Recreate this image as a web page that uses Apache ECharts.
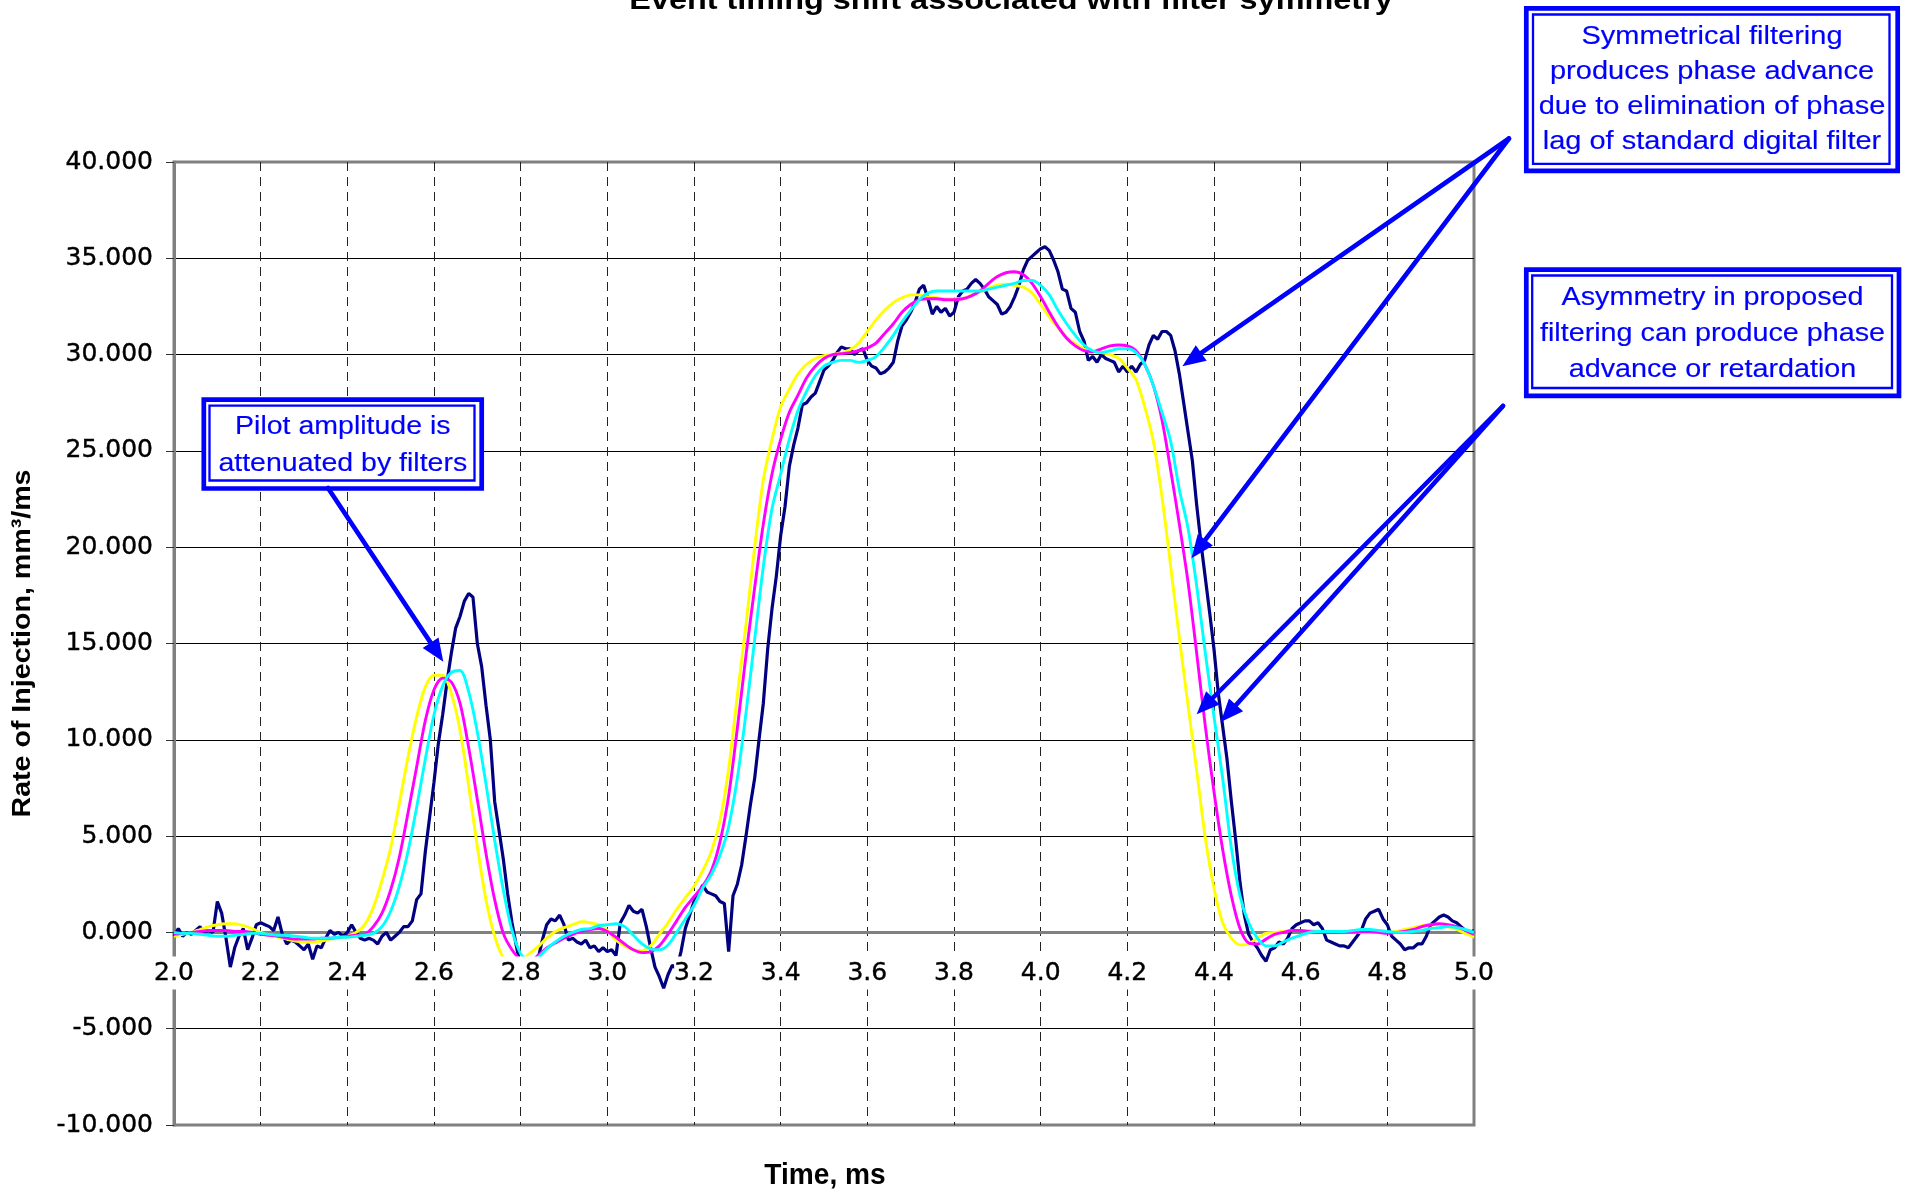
<!DOCTYPE html>
<html><head><meta charset="utf-8">
<script src="https://cdn.jsdelivr.net/npm/echarts@6/dist/echarts.min.js"></script>
<style>html,body{margin:0;padding:0;background:#fff}#c{width:1905px;height:1192px}</style>
</head><body><div id="c"></div>
<script>
// ---------------- data ----------------
const timeStart = 2.0;      // ms, first sample
const rawStep = 0.01;       // ms between raw samples
const filtStep = 0.02;      // ms between filtered samples

// measured (unfiltered) rate of injection, 2.00 .. 5.00 ms
const rawMeasured = [
 -0.2, 0.2, -0.2, 0.0, -0.1, 0.1, 0.3, 0.0, 0.1, 0.0,
 1.6, 1.0, -0.3, -1.8, -0.8, -0.2, 0.2, -0.9, -0.3, 0.4,
 0.5, 0.4, 0.3, 0.1, 0.8, -0.1, -0.6, -0.4, -0.5, -0.7,
 -0.9, -0.6, -1.4, -0.7, -0.8, -0.3, 0.1, -0.1, 0.0, -0.2,
 0.0, 0.4, 0.0, -0.3, -0.4, -0.3, -0.4, -0.6, -0.2, 0.0,
 -0.4, -0.2, 0.0, 0.3, 0.3, 0.6, 1.7, 2.0, 4.2, 6.0,
 7.8, 9.8, 11.3, 13.0, 14.5, 15.8, 16.4, 17.2, 17.6, 17.4,
 15.0, 13.8, 11.8, 10.0, 6.8, 5.3, 3.8, 2.0, 0.5, -0.7,
 -1.8, -2.4, -2.6, -2.3, -1.4, -0.4, 0.4, 0.7, 0.6, 0.9,
 0.4, -0.4, -0.3, -0.5, -0.6, -0.4, -0.8, -0.7, -1.0, -0.8,
 -1.0, -0.9, -1.2, 0.5, 0.9, 1.4, 1.1, 1.0, 1.2, 0.3,
 -0.8, -1.8, -2.3, -2.9, -2.2, -1.7, -1.9, -1.0, 0.2, 0.9,
 1.6, 2.0, 2.45, 2.1, 2.0, 1.9, 1.6, 1.5, -1.0, 1.9,
 2.5, 3.5, 5.0, 6.6, 8.0, 10.0, 11.9, 14.7, 16.8, 18.5,
 20.6, 22.1, 24.2, 25.3, 26.2, 27.4, 27.5, 27.8, 28.0, 28.6,
 29.2, 29.4, 29.7, 30.1, 30.4, 30.3, 30.3, 30.0, 30.2, 30.3,
 29.7, 29.4, 29.3, 29.0, 29.1, 29.3, 29.6, 30.7, 31.5, 31.8,
 32.2, 32.7, 33.4, 33.6, 32.9, 32.1, 32.5, 32.2, 32.4, 32.0,
 32.2, 33.0, 33.3, 33.4, 33.7, 33.9, 33.7, 33.4, 33.0, 32.8,
 32.6, 32.1, 32.2, 32.5, 33.0, 33.6, 34.4, 34.9, 35.1, 35.3,
 35.5, 35.6, 35.4, 34.9, 34.3, 33.4, 33.3, 32.4, 32.2, 31.2,
 30.7, 29.7, 29.9, 29.6, 30.0, 29.8, 29.7, 29.6, 29.1, 29.4,
 29.1, 29.4, 29.1, 29.5, 29.7, 30.5, 31.0, 30.8, 31.2, 31.2,
 31.0, 30.2, 29.0, 27.5, 26.0, 24.5, 22.2, 20.2, 18.4, 16.6,
 14.7, 12.4, 10.7, 9.0, 6.8, 4.8, 2.6, 0.9, -0.1, -0.5,
 -0.8, -1.2, -1.5, -0.9, -0.8, -0.5, -0.6, -0.3, 0.2, 0.4,
 0.5, 0.6, 0.6, 0.4, 0.5, 0.2, -0.4, -0.5, -0.6, -0.7,
 -0.7, -0.8, -0.5, -0.2, 0.1, 0.7, 1.0, 1.1, 1.2, 0.7,
 0.4, -0.2, -0.4, -0.6, -0.9, -0.8, -0.8, -0.6, -0.6, -0.2,
 0.4, 0.6, 0.8, 0.9, 0.8, 0.6, 0.5, 0.3, 0.1, 0.0,
 0.1
];

// filtered traces, 2.00 .. 5.00 ms every 0.02 ms
const filterYellow = [
 -0.2, -0.1, 0.0, 0.15, 0.3, 0.4, 0.45, 0.45, 0.35, 0.2,
 0.0, -0.15, -0.25, -0.35, -0.45, -0.5, -0.5, -0.45, -0.35, -0.3,
 -0.2, 0.0, 0.4, 1.3, 2.7, 4.4, 6.7, 9.1, 11.2, 12.75,
 13.35, 13.35, 12.4, 10.5, 7.6, 4.45, 1.7, -0.2, -1.3, -1.6,
 -1.5, -1.1, -0.75, -0.3, 0.05, 0.25, 0.4, 0.55, 0.5, 0.4,
 0.1, -0.4, -0.7, -0.9, -0.95, -0.7, -0.1, 0.5, 1.2, 1.8,
 2.4, 3.2, 4.2, 5.8, 8.5, 12.3, 16.0, 20.0, 23.5, 25.6,
 27.3, 28.2, 29.0, 29.5, 29.8, 29.95, 30.0, 30.1, 30.25, 30.6,
 31.2, 31.8, 32.3, 32.7, 32.95, 33.1, 33.1, 33.0, 32.95, 32.9,
 32.9, 32.9, 33.1, 33.25, 33.45, 33.6, 33.65, 33.6, 33.5, 33.2,
 32.6, 31.95, 31.4, 30.9, 30.55, 30.3, 30.15, 30.1, 30.0, 29.8,
 29.3, 28.7, 27.3, 25.5, 22.6, 19.0, 15.3, 11.8, 8.4, 4.9,
 2.3, 0.5, -0.3, -0.65, -0.6, -0.3, -0.05, 0.0, 0.05, 0.1,
 0.1, 0.1, 0.05, 0.05, 0.05, 0.05, 0.05, 0.0, 0.0, 0.0,
 0.0, 0.05, 0.15, 0.25, 0.35, 0.4, 0.4, 0.3, 0.15, -0.05,
 -0.25
];
const filterMagenta = [
 -0.1, -0.05, 0.0, 0.05, 0.1, 0.1, 0.1, 0.05, 0.05, 0.0,
 -0.1, -0.15, -0.2, -0.3, -0.35, -0.35, -0.35, -0.3, -0.3, -0.25,
 -0.2, -0.15, -0.1, 0.3, 1.0, 2.2, 3.9, 6.2, 8.6, 11.0,
 12.6, 13.2, 13.0, 11.9, 9.6, 6.9, 4.1, 1.7, -0.05, -0.9,
 -1.4, -1.5, -1.2, -0.8, -0.55, -0.3, -0.1, 0.05, 0.15, 0.2,
 0.05, -0.25, -0.6, -0.9, -1.05, -1.0, -0.7, -0.1, 0.6, 1.3,
 1.85, 2.4, 3.2, 4.7, 7.1, 10.6, 14.4, 17.9, 21.2, 23.8,
 25.6, 27.0, 27.9, 28.8, 29.4, 29.8, 30.0, 30.05, 30.1, 30.2,
 30.35, 30.6, 31.1, 31.6, 32.2, 32.6, 32.85, 32.9, 32.9, 32.85,
 32.85, 32.9, 33.05, 33.3, 33.7, 34.05, 34.25, 34.3, 34.15, 33.7,
 33.0, 32.2, 31.45, 30.85, 30.45, 30.2, 30.15, 30.3, 30.45, 30.5,
 30.45, 30.2, 29.5, 28.4, 26.6, 24.0, 21.2, 18.2, 14.5, 10.7,
 7.3, 4.3, 1.9, 0.2, -0.55, -0.6, -0.35, -0.1, 0.0, 0.1,
 0.1, 0.05, 0.0, 0.0, 0.0, 0.05, 0.05, 0.05, 0.05, 0.0,
 -0.05, 0.0, 0.05, 0.15, 0.3, 0.4, 0.45, 0.4, 0.3, 0.1,
 -0.1
];
const filterCyan = [
 0.0, -0.05, -0.05, -0.1, -0.15, -0.2, -0.2, -0.15, -0.1, -0.05,
 -0.05, -0.1, -0.15, -0.15, -0.2, -0.25, -0.3, -0.3, -0.3, -0.25,
 -0.25, -0.2, -0.15, -0.05, 0.3, 1.1, 2.4, 4.2, 6.5, 9.0,
 11.3, 12.8, 13.5, 13.6, 12.5, 10.4, 7.7, 4.8, 2.2, 0.1,
 -1.1, -1.5, -1.3, -0.85, -0.5, -0.2, 0.0, 0.15, 0.2, 0.35,
 0.4, 0.45, 0.3, -0.15, -0.6, -0.85, -0.9, -0.65, 0.0, 0.7,
 1.4, 2.3, 3.0, 4.0, 5.5, 8.0, 11.4, 15.2, 19.0, 22.0,
 23.8, 25.6, 27.1, 28.1, 28.9, 29.4, 29.6, 29.7, 29.7, 29.6,
 29.7, 29.9, 30.4, 31.0, 31.7, 32.3, 32.85, 33.2, 33.3, 33.3,
 33.3, 33.3, 33.3, 33.3, 33.4, 33.5, 33.6, 33.7, 33.85, 33.85,
 33.6, 33.1, 32.3, 31.6, 31.0, 30.5, 30.2, 30.1, 30.2, 30.3,
 30.3, 30.1, 29.5, 28.4, 27.0, 25.5, 23.0, 21.0, 18.0, 14.5,
 11.2, 8.0, 4.4, 1.9, 0.5, -0.3, -0.7, -0.7, -0.5, -0.3,
 -0.15, 0.0, 0.05, 0.05, 0.05, 0.05, 0.1, 0.15, 0.15, 0.1,
 0.05, 0.0, 0.0, 0.05, 0.1, 0.2, 0.25, 0.3, 0.25, 0.15,
 0.0
];

// axis scales
const xMin = 2.0, xMax = 5.0, xStep = 0.2;
const yMin = -10, yMax = 40, yStep = 5;

// texts
const chartTitle = 'Event timing shift associated with filter symmetry';
const xTitle = 'Time, ms';
const yTitle = 'Rate of Injection, mm\u00b3/ms';
const noteSymmetric = ['Symmetrical filtering', 'produces phase advance', 'due to elimination of phase', 'lag of standard digital filter'];
const noteAsymmetric = ['Asymmetry in proposed', 'filtering can produce phase', 'advance or retardation'];
const notePilot = ['Pilot amplitude is', 'attenuated by filters'];

// arrow tips, in data units (time ms, rate)
const tipPilot = [2.6215, 14.05];
const tipsSymmetric = [[4.327, 29.4], [4.348, 19.43]];
const tipsAsymmetric = [[4.360, 11.33], [4.4155, 10.92]];

// ---------------- layout / style ----------------
const GRID = {left: 174, top: 162, width: 1300, height: 963};
const BLUE = '#0000FF';
const SANS = '"Liberation Sans", Arial, sans-serif';

const pairs = (arr, step) => arr.map((v, i) => [+(timeStart + i * step).toFixed(3), v]);

const chart = echarts.init(document.getElementById('c'));
const labelAxisOffset = -GRID.height * (0 - yMin) / (yMax - yMin);

const lineSeries = (name, arr, step, color, smooth, width) => ({
  name, type: 'line', data: pairs(arr, step), xAxisIndex: 0, yAxisIndex: 0,
  showSymbol: false, symbol: 'none', smooth: smooth, z: 2,
  lineStyle: {color, width: width}, itemStyle: {color}
});

const tickFont = {fontFamily: 'DejaVu Sans', fontSize: 25, color: '#000', textBorderColor: '#000', textBorderWidth: 0.4};

chart.setOption({
  animation: false,
  backgroundColor: '#fff',
  grid: Object.assign({show: true, borderColor: '#808080', borderWidth: 3, backgroundColor: 'transparent'}, GRID),
  xAxis: [
    {type: 'value', min: xMin, max: xMax, interval: xStep, position: 'bottom', z: 0,
     axisLine: {show: true, onZero: true, onZeroAxisIndex: 0, lineStyle: {color: '#808080', width: 3}},
     axisTick: {show: false}, axisLabel: {show: false},
     splitLine: {show: true, showMinLine: false, showMaxLine: false, lineStyle: {color: '#222', width: 1, type: [9, 6]}}},
    {type: 'value', min: xMin, max: xMax, interval: xStep, position: 'bottom', z: 5,
     offset: labelAxisOffset,
     axisLine: {show: false, onZero: false}, axisTick: {show: false}, splitLine: {show: false},
     axisLabel: Object.assign({show: true, margin: 24, formatter: v => v.toFixed(1),
                 backgroundColor: '#fff', padding: [5, 0, 3, 0]}, tickFont)}
  ],
  yAxis: {type: 'value', min: yMin, max: yMax, interval: yStep,
    axisLine: {show: true, onZero: false, lineStyle: {color: '#808080', width: 3}},
    axisTick: {show: true, length: 8, lineStyle: {color: '#333', width: 1}},
    axisLabel: Object.assign({margin: 21, formatter: v => v.toFixed(3)}, tickFont),
    splitLine: {show: true, showMinLine: false, showMaxLine: false, lineStyle: {color: '#000', width: 1}}},
  series: [
    lineSeries('Measured', rawMeasured, rawStep, '#000080', false, 3.2),
    lineSeries('Filter A', filterYellow, filtStep, '#FFFF00', 0.3, 2.9),
    lineSeries('Filter B', filterMagenta, filtStep, '#FF00FF', 0.3, 2.9),
    lineSeries('Filter C', filterCyan, filtStep, '#00FFFF', 0.3, 2.9)
  ]
});

// ---------------- annotations ----------------
const toPx = p => chart.convertToPixel({xAxisIndex: 0, yAxisIndex: 0}, p);
const HEAD_LEN = 23, HEAD_HW = 9.5;

function arrow(tail, tip) {
  const dx = tip[0] - tail[0], dy = tip[1] - tail[1];
  const L = Math.hypot(dx, dy), ux = dx / L, uy = dy / L;
  const bx = tip[0] - ux * HEAD_LEN, by = tip[1] - uy * HEAD_LEN;
  const px = -uy, py = ux;
  return [
    {type: 'line', z: 20, shape: {x1: tail[0], y1: tail[1], x2: bx + ux * 3, y2: by + uy * 3},
     style: {stroke: BLUE, lineWidth: 4.6, lineCap: 'round'}},
    {type: 'polygon', z: 21, shape: {points: [tip, [bx + px * HEAD_HW, by + py * HEAD_HW], [bx - px * HEAD_HW, by - py * HEAD_HW]]},
     style: {fill: BLUE}}
  ];
}

function noteBox(outer, inner, center, lines, lineHeight, sx) {
  return [
    {type: 'rect', z: 15, shape: {x: outer[0], y: outer[1], width: outer[2], height: outer[3]},
     style: {fill: '#fff', stroke: BLUE, lineWidth: 4.7}},
    {type: 'rect', z: 16, shape: {x: inner[0], y: inner[1], width: inner[2], height: inner[3]},
     style: {fill: 'none', stroke: BLUE, lineWidth: 2.3}},
    {type: 'text', z: 17, x: center[0], y: center[1], scaleX: sx,
     style: {text: lines.join('\n'), fill: BLUE, stroke: BLUE, lineWidth: 0.15, fontFamily: SANS, fontSize: 25,
             lineHeight: lineHeight, align: 'center', verticalAlign: 'middle'}}
  ];
}

const symTail = [1509, 138.5], asymTail = [1503, 406], pilotTail = [328, 488];
const els = [];
els.push(...noteBox([1526.3, 8.3, 371.4, 162.5], [1533, 14.5, 356.5, 149.3], [1712, 89.5], noteSymmetric, 35, 1.16));
els.push(...noteBox([1526.3, 269.7, 372.7, 126.1], [1532.2, 275.5, 359.8, 112.5], [1712.5, 334], noteAsymmetric, 36, 1.15));
els.push(...noteBox([203.8, 399.7, 277.9, 88.8], [209.5, 405.7, 265, 74.8], [342.8, 445.5], notePilot, 36.7, 1.14));
els.push(...arrow(pilotTail, toPx(tipPilot)));
tipsSymmetric.forEach(t => els.push(...arrow(symTail, toPx(t))));
tipsAsymmetric.forEach(t => els.push(...arrow(asymTail, toPx(t))));

// titles
els.push({type: 'text', z: 30, x: 1011, y: 2, scaleX: 1.2,
  style: {text: chartTitle, fill: '#000', fontFamily: SANS, fontWeight: 'bold', fontSize: 27, align: 'center', verticalAlign: 'middle'}});
els.push({type: 'text', z: 30, x: 825, y: 1176, scaleX: 0.97,
  style: {text: xTitle, fill: '#000', fontFamily: SANS, fontWeight: 'bold', fontSize: 29, align: 'center', verticalAlign: 'middle'}});
els.push({type: 'text', z: 30, x: 22.5, y: GRID.top + GRID.height / 2, rotation: Math.PI / 2, scaleX: 1.1,
  style: {text: yTitle, fill: '#000', fontFamily: SANS, fontWeight: 'bold', fontSize: 26, align: 'center', verticalAlign: 'middle'}});

chart.setOption({graphic: {elements: els}});
</script>
</body></html>
